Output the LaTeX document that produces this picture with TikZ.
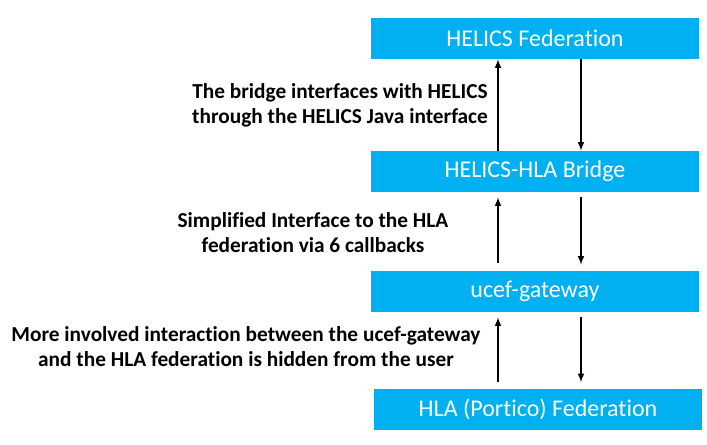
\documentclass[tikz,border=0pt]{standalone}
\usepackage{fontspec}
\setmainfont[Ligatures=NoCommon]{Carlito}
\usetikzlibrary{arrows,positioning}
\definecolor{boxblue}{HTML}{00B0F0}
\tikzset{
    layer/.style={
    rectangle,fill=boxblue,text=white,minimum width=246pt,minimum height=30.75pt,inner sep=0pt,
    font=\fontsize{18}{21}\selectfont
    },
    note/.style={
    align=center,font=\fontsize{16}{18.75}\selectfont\bfseries
    },
    link/.style={
    -latex,line width=1.2pt
    },
}
\begin{document}
\begin{tikzpicture}[x=0.75pt,y=-0.75pt]
   \useasboundingbox (0,0) rectangle (707,445);
   \node[layer] (fed)    at (535,38.5)  {HELICS Federation};
   \node[layer] (bridge) at (535,171.5) {HELICS-HLA Bridge};
   \node[layer] (gate)   at (535,291.5) {ucef-gateway};
   \node[layer] (rti)    at (538,409)   {HLA (Portico) Federation};

   \node[note] (javanote) at (340,105.5) {The bridge interfaces with HELICS\\through the HELICS Java interface};
   \node[note] (cbnote)   at (313,232.5) {Simplified Interface to the HLA\\federation via 6 callbacks};
   \node[note] (hidenote) at (246,346.5) {More involved interaction between the ucef-gateway\\and the HLA federation is hidden from the user};

   \draw[link] ([xshift=-27.75pt]bridge.north) -- ([xshift=-27.75pt]fed.south);
   \draw[link] ([xshift=34.5pt]fed.south)      -- ([xshift=34.5pt]bridge.north);
   \draw[link,shorten <=6pt,shorten >=3.75pt] ([xshift=-27.75pt]gate.north) -- ([xshift=-27.75pt]bridge.south);
   \draw[link,shorten <=3.75pt,shorten >=4.5pt] ([xshift=34.5pt]bridge.south) -- ([xshift=34.5pt]gate.north);
   \draw[link,shorten <=5pt,shorten >=3.75pt] ([xshift=-30pt]rti.north) -- ([xshift=-27.75pt]gate.south);
   \draw[link,shorten <=3.75pt,shorten >=4.5pt] ([xshift=34.5pt]gate.south) -- ([xshift=32.25pt]rti.north);
\end{tikzpicture}
\end{document}
